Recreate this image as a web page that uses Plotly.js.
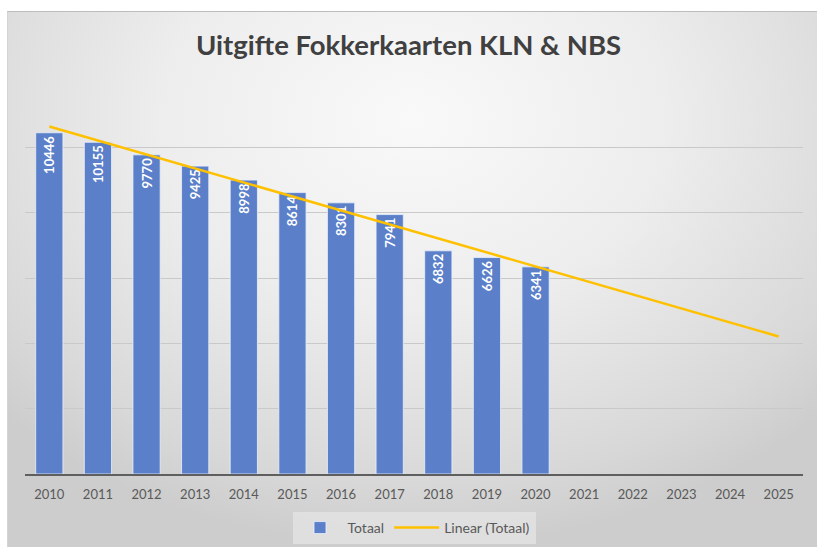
<!DOCTYPE html>
<html>
<head>
<meta charset="utf-8">
<script src="https://cdn.plot.ly/plotly-3.0.1.min.js"></script>
<style>
  html, body { margin:0; padding:0; background:#ffffff; }
  #bg { position:absolute; left:7px; top:11px; width:810px; height:536px;
        background: radial-gradient(ellipse 70% 80% at 50% 20%, #f9f9f9 0%, #ededed 45%, #d8d8d8 85%, #cdcdcd 100%);
        border-top:1px solid #bdbdbd; border-left:1px solid #d4d4d4; box-sizing:border-box; }
  #chart { position:absolute; left:0; top:0; width:817px; height:547px; }
</style>
</head>
<body>
<div id="bg"></div>
<div id="chart"></div>
<script>
const years = ['2010','2011','2012','2013','2014','2015','2016','2017','2018','2019','2020','2021','2022','2023','2024','2025'];
const barYears = ['2010','2011','2012','2013','2014','2015','2016','2017','2018','2019','2020'];
const totaal = [10446, 10155, 9770, 9425, 8998, 8614, 8301, 7941, 6832, 6626, 6341];
const trendYears = ['2010', '2025'];
const trendValues = [10640, 4210];

const fontFam = 'Lato, "Open Sans", sans-serif';

const traces = [
  {
    type: 'bar',
    name: 'Totaal',
    x: barYears,
    y: totaal,
    text: totaal.map(String),
    textposition: 'inside',
    insidetextanchor: 'end',
    textangle: -90,
    constraintext: 'none',
    textfont: { family: fontFam, size: 13, color: '#ffffff', weight: 'bold' },
    marker: { color: 'rgb(91,128,201)', line: { color: 'rgba(235,240,250,0.8)', width: 1 } },
    hoverinfo: 'x+y'
  },
  {
    type: 'scatter',
    mode: 'lines',
    name: 'Linear (Totaal)',
    x: trendYears,
    y: trendValues,
    line: { color: '#FFC000', width: 2.5 },
    hoverinfo: 'skip'
  }
];

const layout = {
  width: 817,
  height: 547,
  paper_bgcolor: 'rgba(0,0,0,0)',
  plot_bgcolor: 'rgba(0,0,0,0)',
  margin: { l: 25, r: 14, t: 82, b: 73, autoexpand: false },
  title: {
    text: 'Uitgifte Fokkerkaarten KLN &amp; NBS',
    font: { family: fontFam, size: 27.5, color: '#404040', weight: 'bold' },
    x: 0.5, xanchor: 'center', xref: 'container',
    y: 1 - 45/547, yanchor: 'middle', yref: 'container'
  },
  bargap: 0.44,
  xaxis: {
    type: 'category',
    categoryorder: 'array',
    categoryarray: years,
    range: [-0.5, 15.5],
    showgrid: false,
    showline: true,
    linecolor: '#5f5f5f',
    linewidth: 2,
    ticks: 'outside',
    ticklen: 7,
    tickcolor: 'rgba(0,0,0,0)',
    tickfont: { family: fontFam, size: 13, color: '#595959' },
    zeroline: false
  },
  yaxis: {
    range: [0, 12000],
    dtick: 2000,
    showgrid: true,
    gridcolor: '#c9c9c9',
    gridwidth: 1,
    showticklabels: false,
    zeroline: false,
    showline: false
  },
  showlegend: true,
  legend: {
    orientation: 'h',
    x: 0.5, xanchor: 'center',
    yref: 'container',
    y: 1 - 528/547, yanchor: 'middle',
    bgcolor: 'rgba(228,228,228,0.75)',
    font: { family: fontFam, size: 14, color: '#595959' },
    traceorder: 'normal',
    itemwidth: 45
  }
};

Plotly.newPlot('chart', traces, layout, { displayModeBar: false, staticPlot: true });
</script>
</body>
</html>
